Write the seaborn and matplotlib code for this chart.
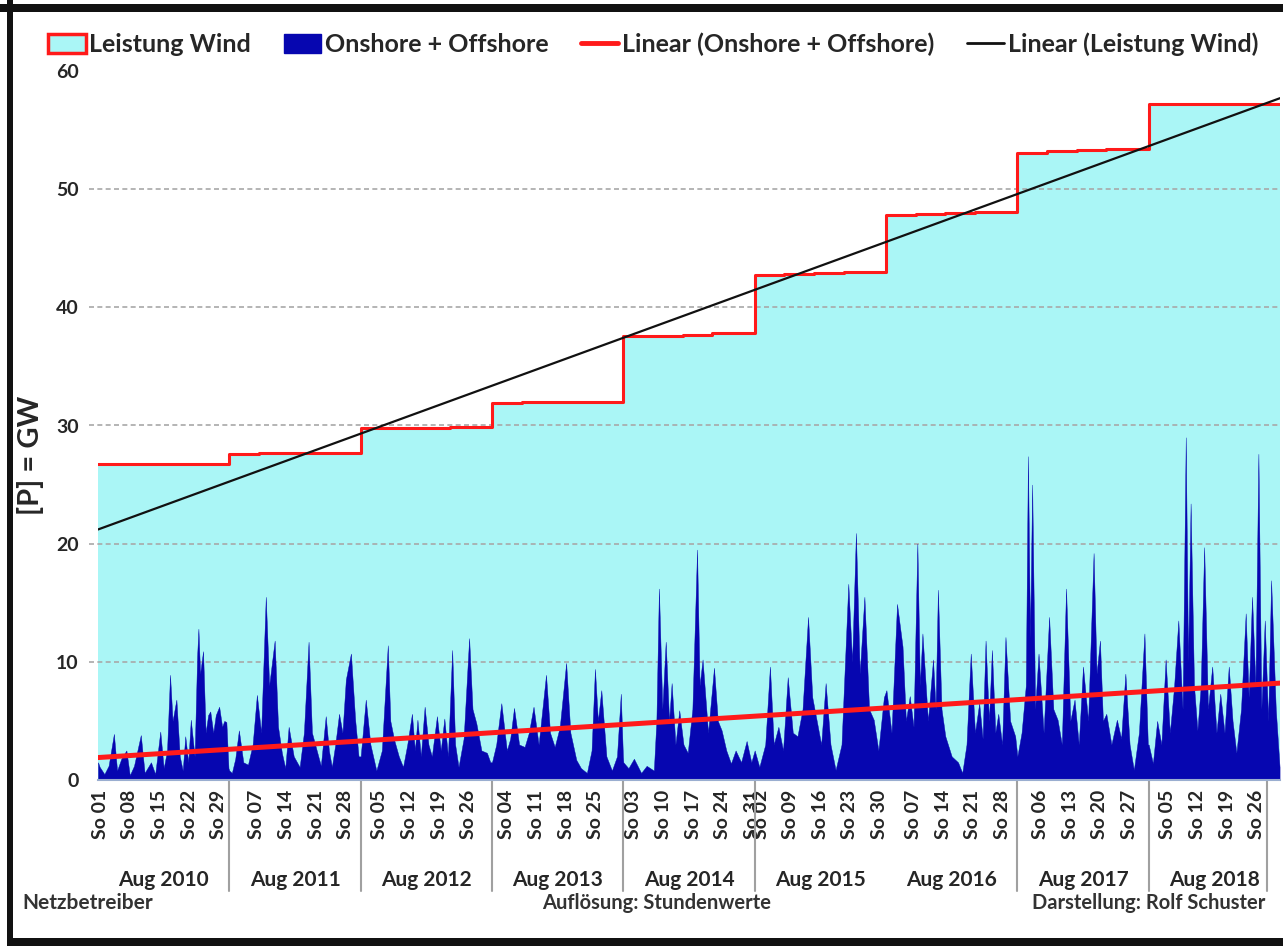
import numpy as np
import pandas as pd
import matplotlib
matplotlib.use("Agg")
import matplotlib.pyplot as plt
import seaborn as sns
from matplotlib.patches import Patch, Rectangle
from matplotlib.lines import Line2D

# ------------------------------------------------------------
# Data
# ------------------------------------------------------------
years = [2010, 2011, 2012, 2013, 2014, 2015, 2016, 2017, 2018]
hours_per_aug = 744

# Sundays in each August (tick labels "So dd")
sundays = [[1, 8, 15, 22, 29], [7, 14, 21, 28], [5, 12, 19, 26], [4, 11, 18, 25],
           [3, 10, 17, 24, 31], [2, 9, 16, 23, 30], [7, 14, 21, 28], [6, 13, 20, 27],
           [5, 12, 19, 26]]

# installed wind capacity (GW), one value per week of August
cap_week_start = [1, 8, 15, 22, 29]
capacity_gw = [[26.7, 26.7, 26.7, 26.7, 26.7],
               [27.6, 27.7, 27.7, 27.7, 27.7],
               [29.8, 29.8, 29.8, 29.9, 29.9],
               [31.9, 32.0, 32.0, 32.0, 32.0],
               [37.6, 37.6, 37.7, 37.8, 37.8],
               [42.7, 42.8, 42.9, 43.0, 43.0],
               [47.8, 47.9, 48.0, 48.1, 48.1],
               [53.1, 53.2, 53.3, 53.4, 53.4],
               [57.2, 57.2, 57.2, 57.2, 57.2]]

# fed-in wind power onshore + offshore (GW) at day-of-month (fractional)
wind_day_2010 = [1.0, 1.4, 2.5, 3.5, 4.75, 5.5, 6.5, 7.7, 8.5, 9.5, 11.1, 12.0, 13.5, 14.5,
                 15.7, 16.5, 17.3, 18.0, 18.6, 19.5, 20.3, 21.0, 21.6, 22.3, 22.9, 23.8,
                 24.4, 24.7, 25.1, 25.8, 26.4, 27.0, 27.5, 28.2, 28.8, 29.6, 30.3, 30.8,
                 31.3, 31.8]
wind_gw_2010 = [1.5, 1.1, 0.5, 1.2, 3.9, 0.8, 1.8, 2.5, 0.4, 1.2, 3.8, 0.6, 1.5, 0.5,
                4.1, 1.0, 2.5, 8.9, 5.0, 6.8, 2.0, 0.8, 3.7, 1.5, 5.1, 2.0,
                10.5, 12.8, 9.0, 10.9, 4.0, 5.5, 5.8, 4.0, 5.5, 6.2, 4.5, 5.0,
                4.9, 1.0]
wind_day_2011 = [1.0, 1.6, 2.4, 3.25, 4.3, 5.4, 6.5, 7.5, 8.5, 9.6, 10.4, 11.7, 12.5, 13.4,
                 14.2, 15.0, 16.2, 17.6, 18.6, 19.7, 20.5, 21.4, 22.6, 23.75, 24.5, 25.2,
                 26.0, 26.9, 27.7, 28.5, 29.7, 30.7, 31.5]
wind_gw_2011 = [0.8, 0.6, 1.8, 4.2, 1.5, 1.3, 3.0, 7.2, 4.0, 15.5, 8.0, 11.8, 4.5, 2.3,
                1.0, 4.5, 2.0, 1.1, 4.0, 11.7, 4.0, 2.8, 1.2, 5.4, 2.5, 1.1,
                3.0, 5.6, 4.0, 8.5, 10.7, 5.1, 2.0]
wind_day_2012 = [1.0, 2.2, 3.3, 4.7, 6.0, 7.4, 8.0, 8.9, 10.0, 11.0, 12.0, 13.1, 13.8, 14.4,
                 15.2, 16.1, 17.0, 17.8, 19.0, 19.9, 20.75, 21.6, 22.6, 23.3, 24.1, 25.3,
                 26.6, 27.4, 28.3, 29.5, 30.8, 31.6]
wind_gw_2012 = [2.0, 6.8, 3.0, 0.8, 2.5, 11.4, 5.0, 3.4, 2.0, 1.1, 3.0, 5.6, 2.5, 5.1,
                2.0, 6.2, 3.0, 2.0, 5.4, 2.5, 5.2, 2.0, 11.0, 3.0, 1.1, 3.5,
                12.0, 6.0, 4.8, 2.5, 2.3, 1.5]
wind_day_2013 = [1.0, 2.0, 3.2, 4.5, 5.3, 6.2, 7.4, 8.7, 9.7, 10.8, 12.0, 13.75, 14.7, 15.8,
                 17.0, 18.5, 19.5, 20.9, 22.0, 23.4, 24.5, 25.3, 26.0, 26.8, 28.0, 29.3,
                 30.5, 31.4, 31.9]
wind_gw_2013 = [1.5, 3.0, 6.5, 2.5, 3.5, 6.1, 3.0, 2.8, 4.0, 6.2, 3.0, 8.9, 4.0, 2.8,
                4.5, 9.9, 4.0, 1.7, 1.0, 0.6, 2.5, 9.4, 5.0, 7.6, 2.0, 0.8,
                2.0, 7.3, 2.0]
wind_day_2014 = [1.0, 2.2, 3.5, 5.2, 6.5, 8.2, 8.8, 9.4, 10.2, 11.0, 11.8, 12.4, 13.3, 14.2,
                 15.2, 16.2, 17.3, 18.4, 19.0, 19.7, 21.0, 22.4, 23.3, 24.2, 25.3, 26.4,
                 27.5, 28.8, 30.1, 31.2]
wind_gw_2014 = [1.5, 1.0, 1.8, 0.6, 1.2, 0.8, 5.0, 16.2, 6.0, 11.7, 5.0, 8.2, 3.0, 5.9,
                3.0, 2.3, 6.0, 19.5, 8.0, 10.2, 4.0, 9.5, 5.0, 4.2, 2.5, 1.4,
                2.5, 1.5, 3.3, 1.5]
wind_day_2015 = [1.0, 2.1, 3.5, 4.6, 5.5, 6.6, 7.7, 8.8, 10.0, 11.1, 12.3, 13.6, 14.6, 15.6,
                 16.7, 17.75, 18.9, 20.1, 21.5, 23.1, 24.0, 24.9, 25.8, 26.9, 28.0, 29.1,
                 30.2, 31.5]
wind_gw_2015 = [2.5, 1.1, 3.0, 9.6, 3.0, 4.5, 2.5, 8.7, 4.0, 3.7, 6.0, 13.8, 7.0, 5.1,
                3.0, 8.2, 3.0, 0.85, 3.0, 16.6, 10.0, 20.9, 9.0, 15.5, 6.0, 5.1,
                2.5, 7.0]
wind_day_2016 = [1.1, 2.3, 3.6, 4.9, 5.7, 6.6, 7.5, 8.4, 9.0, 9.6, 10.9, 12.1, 12.7, 13.25,
                 14.1, 15.0, 16.5, 18.0, 19.0, 20.0, 21.0, 22.0, 23.0, 23.8, 24.5, 25.3,
                 26.0, 26.8, 27.5, 28.4, 29.2, 30.3, 31.5]
wind_gw_2016 = [7.6, 4.0, 14.9, 11.3, 5.0, 7.1, 4.5, 20.0, 8.0, 12.4, 5.0, 10.2, 6.0, 16.1,
                6.0, 3.7, 2.0, 1.5, 0.6, 3.0, 10.7, 4.0, 6.5, 3.5, 11.8, 5.0,
                11.0, 4.0, 5.6, 3.0, 12.1, 5.0, 3.7]
wind_day_2017 = [1.0, 2.0, 3.0, 3.5, 4.0, 4.5, 5.2, 6.0, 7.2, 8.5, 9.5, 10.5, 11.5, 12.5,
                 13.5, 14.5, 15.5, 16.5, 17.7, 19.0, 19.7, 20.5, 21.2, 22.0, 23.2, 24.5,
                 25.5, 26.5, 27.5, 28.5, 29.7, 31.0, 31.8]
wind_gw_2017 = [2.0, 4.0, 8.0, 27.4, 12.0, 25.0, 6.0, 10.7, 4.0, 13.8, 6.0, 5.1, 3.0, 16.2,
                5.0, 6.8, 3.0, 9.6, 5.0, 19.2, 9.0, 11.8, 5.0, 5.6, 3.0, 5.1,
                3.5, 9.0, 3.0, 0.85, 4.0, 12.4, 3.0]
wind_day_2018 = [1.0, 2.0, 3.0, 4.0, 5.0, 6.0, 7.0, 8.0, 9.0, 9.75, 10.3, 10.9, 11.7, 12.5,
                 13.3, 14.1, 15.0, 16.0, 17.0, 17.9, 18.9, 19.9, 20.8, 21.7, 22.8, 23.9,
                 24.6, 25.4, 26.2, 26.9, 27.6, 28.4, 29.2, 29.9, 31.0, 31.9]
wind_gw_2018 = [3.0, 1.4, 5.0, 3.0, 10.2, 4.0, 7.9, 13.5, 6.0, 29.0, 10.0, 23.4, 8.0, 4.2,
                8.0, 19.7, 6.0, 9.6, 4.0, 7.3, 4.0, 9.6, 5.0, 2.3, 6.0, 14.1,
                7.0, 15.5, 8.0, 27.6, 6.0, 13.5, 5.0, 16.9, 6.0, 1.1]

# linear trend lines (GW at start / end of the series)
trend_wind_gw = [1.9, 8.2]
trend_cap_gw = [21.2, 57.7]

# ------------------------------------------------------------
# Build tables on a common hour axis (9 Augusts back to back)
# ------------------------------------------------------------
wind_days = [wind_day_2010, wind_day_2011, wind_day_2012, wind_day_2013, wind_day_2014,
             wind_day_2015, wind_day_2016, wind_day_2017, wind_day_2018]
wind_vals = [wind_gw_2010, wind_gw_2011, wind_gw_2012, wind_gw_2013, wind_gw_2014,
             wind_gw_2015, wind_gw_2016, wind_gw_2017, wind_gw_2018]

rows = []
for k, (days, vals) in enumerate(zip(wind_days, wind_vals)):
    for d, v in zip(days, vals):
        rows.append({"hour": k * hours_per_aug + (d - 1) * 24, "gw": v})
wind = pd.DataFrame(rows)

cap_x, cap_y = [], []
for k, weeks in enumerate(capacity_gw):
    for d, v in zip(cap_week_start, weeks):
        cap_x.append(k * hours_per_aug + (d - 1) * 24)
        cap_y.append(v)
total_hours = len(years) * hours_per_aug
cap_x.append(total_hours)
cap_y.append(cap_y[-1])
cap = pd.DataFrame({"hour": cap_x, "gw": cap_y})

trend = pd.DataFrame({"hour": [0, total_hours],
                      "wind": trend_wind_gw, "cap": trend_cap_gw})

# ------------------------------------------------------------
# Plot
# ------------------------------------------------------------
sns.set_theme(style="white")
plt.rcParams["font.family"] = ["Lato", "DejaVu Sans"]
txt = "#262626"

fig = plt.figure(figsize=(12.83, 9.46), dpi=100)
ax = fig.add_axes([98 / 1283, 1 - 780 / 946, 1182 / 1283, 709 / 946])

CYAN = "#aaf6f6"
BLUE = "#0606b0"
RED = "#ff1a1a"

ax.fill_between(cap["hour"], cap["gw"], step="post", color=CYAN, lw=0, zorder=1)
ax.hlines([10, 20, 30, 40, 50], -0.008, 1, transform=ax.get_yaxis_transform(),
          colors="#a8a8a8", linestyles=(0, (3, 2)), lw=1.2, clip_on=False, zorder=1.5)
ax.fill_between(wind["hour"], wind["gw"], color=BLUE, lw=0.3, edgecolor=BLUE, zorder=2)
sns.lineplot(data=cap, x="hour", y="gw", ax=ax, color=RED, lw=2.2,
             drawstyle="steps-post", zorder=3)
sns.lineplot(data=trend, x="hour", y="wind", ax=ax, color=RED, lw=3.6, zorder=4)
sns.lineplot(data=trend, x="hour", y="cap", ax=ax, color="#111111", lw=1.6, zorder=5)

ax.set_xlim(0, total_hours)
ax.set_ylim(0, 60)
ax.set_xlabel("")
ax.set_ylabel("")

# y axis
ax.set_yticks(range(0, 61, 10))
ax.tick_params(axis="y", length=0, pad=14, labelsize=14, labelcolor=txt)
for lbl in ax.get_yticklabels():
    lbl.set_fontweight("bold")

# x axis: Sundays
tick_pos, tick_lab = [], []
for k, days in enumerate(sundays):
    for d in days:
        tick_pos.append(k * hours_per_aug + (d - 1) * 24 + 12)
        tick_lab.append(f"So {d:02d}")
ax.set_xticks(tick_pos)
ax.set_xticklabels(tick_lab, rotation=90, fontsize=14, fontweight="bold", color=txt)
ax.tick_params(axis="x", length=0, pad=7)

for s in ["left", "right", "top"]:
    ax.spines[s].set_visible(False)
ax.spines["bottom"].set_color("#9aaed0")
ax.spines["bottom"].set_linewidth(1.5)
ax.spines["bottom"].set_zorder(6)

# year groups
bt = ax.get_xaxis_transform()
for k, yr in enumerate(years):
    ax.text(k * hours_per_aug + hours_per_aug / 2, -0.141, f"Aug {yr}", transform=bt,
            ha="center", va="center", fontsize=15, fontweight="bold", color=txt)
for k in [1, 2, 3, 4, 5, 7, 8]:
    ax.plot([k * hours_per_aug] * 2, [0, -0.157], transform=bt, color="#a0a0a0",
            lw=1.5, clip_on=False)
ax.plot([0.989, 0.989], [0, -0.157], transform=ax.transAxes, color="#a0a0a0",
        lw=1.5, clip_on=False)

# y label
fig.text(30 / 1283, 1 - 455 / 946, "[P] = GW", rotation=90, ha="center", va="center",
         fontsize=21, fontweight="bold", color=txt)

# legend
handles = [Patch(facecolor=CYAN, edgecolor=RED, lw=2.5),
           Patch(facecolor=BLUE, edgecolor=BLUE),
           Line2D([], [], color=RED, lw=3.5),
           Line2D([], [], color="#111111", lw=2)]
labels = ["Leistung Wind", "Onshore + Offshore", "Linear (Onshore + Offshore)",
          "Linear (Leistung Wind)"]
leg = fig.legend(handles, labels, loc="center left", bbox_to_anchor=(38 / 1283, 1 - 44 / 946),
                 ncol=4, frameon=False, fontsize=18, handlelength=1.5, handleheight=0.8,
                 handletextpad=0.15, columnspacing=1.3, borderaxespad=0)
for t in leg.get_texts():
    t.set_fontweight("bold")
    t.set_color(txt)

# footer
fy = 1 - 903 / 946
fig.text(22 / 1283, fy, "Netzbetreiber", ha="left", va="center", fontsize=15,
         fontweight="bold", color="#333333")
fig.text(657 / 1283, fy, "Auflösung: Stundenwerte", ha="center", va="center", fontsize=14.5,
         fontweight="bold", color="#333333")
fig.text(1265 / 1283, fy, "Darstellung: Rolf Schuster", ha="right", va="center",
         fontsize=14.5, fontweight="bold", color="#333333")

# black frame of the screenshot
for x0, y0, w, h in [(0, 4, 1283, 8), (7, 0, 6, 946), (7, 938, 1276, 8)]:
    fig.add_artist(Rectangle((x0 / 1283, 1 - (y0 + h) / 946), w / 1283, h / 946,
                             transform=fig.transFigure, color="#111111", lw=0))

fig.savefig("out.png", dpi=100)
